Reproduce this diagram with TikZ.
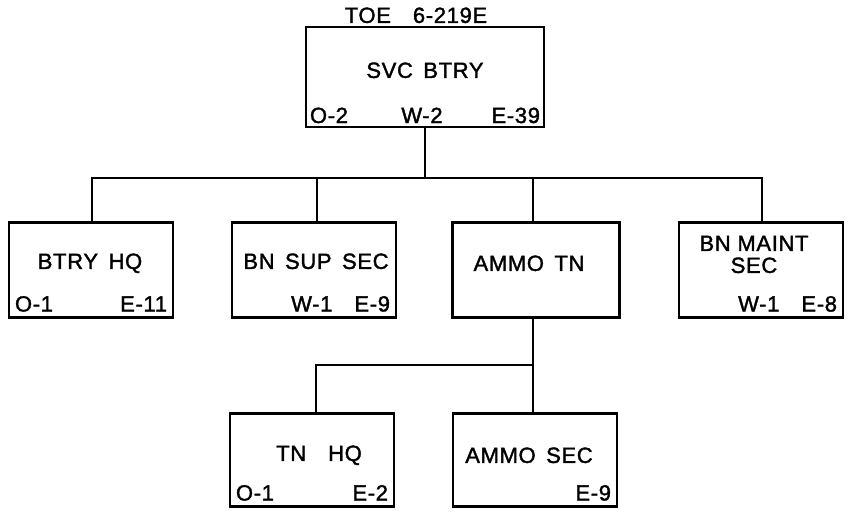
\documentclass[tikz,border=0pt]{standalone}
\usepackage{fontspec}
\setmainfont[LetterSpace=3, FakeBold=1.6]{Liberation Sans}
\usetikzlibrary{positioning}

\begin{document}
\begin{tikzpicture}[x=1pt, y=-1pt, line width=2.4pt,
  unit/.style={draw, minimum width=164pt, minimum height=95pt},
  txt/.style={font=\fontsize{22}{22}\selectfont, text height=15.8pt, text depth=0pt, inner sep=0pt, align=center},
  strength/.style={font=\fontsize{22}{22}\selectfont, text height=15.8pt, text depth=0pt, inner sep=6pt}]

  \useasboundingbox (0,0) rectangle (849,515);

  % boxes
  \node[unit, minimum width=238pt, minimum height=100pt] (svc) at (425,77) {};
  \node[unit] (btryhq) at (91,270) {};
  \node[unit] (bnsup) at (314,270) {};
  \node[unit, minimum width=167pt] (ammotn) at (536,270) {};
  \node[unit] (bnmaint) at (761,270) {};
  \node[unit, minimum height=93pt] (tnhq) at (312,460) {};
  \node[unit, minimum height=93pt] (ammosec) at (535,460) {};

  % connectors
  \coordinate (bus) at (425,178);
  \coordinate (tnbus) at (533,365);
  \draw (svc.south) -- (bus);
  \draw ([xshift=1pt]btryhq.north) -- ([xshift=1pt]btryhq.north |- bus)
        -- ([xshift=1pt]bnmaint.north |- bus) -- ([xshift=1pt]bnmaint.north);
  \draw ([xshift=3pt]bnsup.north) -- ([xshift=3pt]bnsup.north |- bus);
  \draw ([xshift=-3pt]ammotn.north) -- ([xshift=-3pt]ammotn.north |- bus);
  \draw (ammotn.south -| tnbus) -- (tnbus);
  \draw ([xshift=4pt]tnhq.north) -- ([xshift=4pt]tnhq.north |- tnbus) -- (tnbus)
        -- (tnbus |- ammosec.north);

  % titles
  \node[txt] (toe) at (416,15) {TOE\quad 6-219E};
  \node[txt] (svct) at (425,70) {SVC\, BTRY};
  \node[txt] (btryhqt) at (90,261) {BTRY\, HQ};
  \node[txt] (bnsupt) at (316,261) {BN\, SUP\, SEC};
  \node[txt] (ammotnt) at (529,263) {AMMO\, TN};
  \node[txt, text height=37.8pt] (bnmaintt) at (754,254) {BN MAINT\\SEC};
  \node[txt] (tnhqt) at (319,453) {TN\quad HQ};
  \node[txt] (ammosect) at (529,455) {AMMO\, SEC};

  % strengths
  \node[strength, anchor=south west, inner sep=4pt] (svco) at (svc.south west) {O-2};
  \node[strength, anchor=south, inner sep=4pt] (svcw) at ([xshift=-3pt]svc.south) {W-2};
  \node[strength, anchor=south east, inner sep=4pt] (svce) at (svc.south east) {E-39};
  \node[strength, anchor=south west] (btryhqo) at (btryhq.south west) {O-1};
  \node[strength, anchor=south east] (btryhqe) at (btryhq.south east) {E-11};
  \node[strength, anchor=south east] (bnsupe) at (bnsup.south east) {W-1\quad E-9};
  \node[strength, anchor=south east] (bnmainte) at (bnmaint.south east) {W-1\quad E-8};
  \node[strength, anchor=south west] (tnhqo) at (tnhq.south west) {O-1};
  \node[strength, anchor=south east] (tnhqe) at (tnhq.south east) {E-2};
  \node[strength, anchor=south east] (ammosece) at (ammosec.south east) {E-9};

\end{tikzpicture}
\end{document}
